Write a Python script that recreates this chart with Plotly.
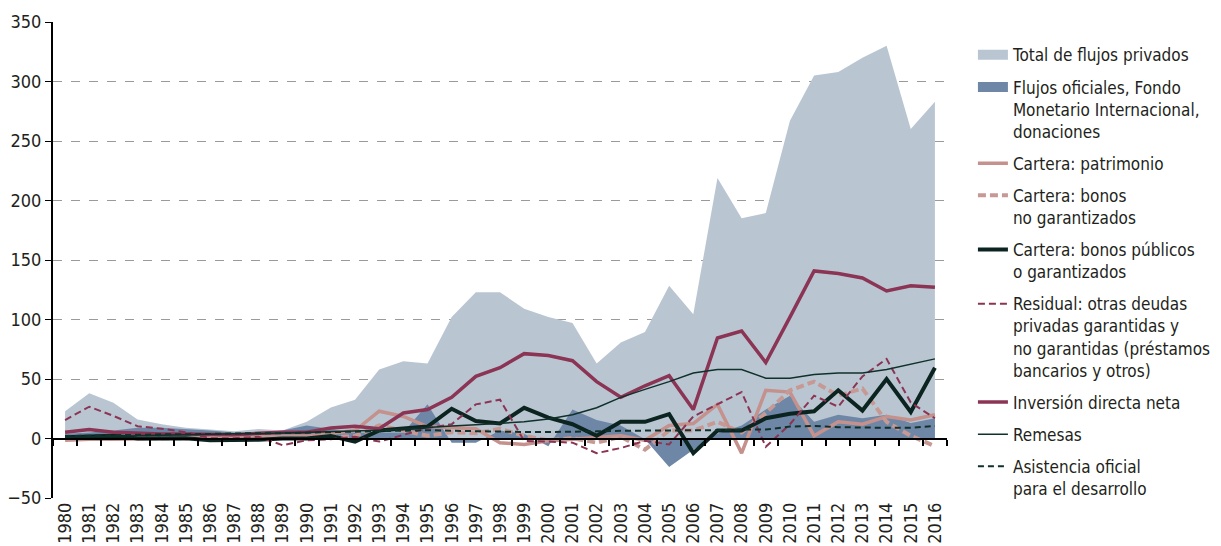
import plotly.graph_objects as go

years = [str(y) for y in range(1980, 2017)]

total_privados = [23, 38, 30, 16, 12, 9, 7.6, 6, 8, 6.7, 14, 26, 32.5, 58, 65, 63, 102, 123, 123,
                  109, 102, 97, 63, 80.6, 89.4, 128.4, 104.4, 219, 185, 189.4, 267, 305, 308, 320, 330, 260, 283]
flujos_oficiales = [4, 5, 6.7, 9, 9, 8, 6.7, 5, 5, 6.7, 11, 8, 5, 5, 5, 28.7, -3.5, -3.5, 6.7,
                    4, -6.5, 24.3, 15.5, 11, -0.6, -24, -9.4, 4, 11, 24.3, 36, 14, 20, 17, 20, 13, 17]
patrimonio = [-1.5, -0.6, -0.6, 0, 0, 0.5, 0.5, 0.5, 1.5, 1.5, 2, 4.4, 6.7, 22.9, 18.5, 10, 9, 8.2, -3.5,
              -5, -2, -0.6, 0.9, 2.3, -1.5, 11, 12.6, 28.7, -12.3, 40.5, 39, 2.3, 14, 12, 18.5, 15.5, 20]
bonos_no_garant = [0, 0, 0, 0, 0, 0, 0, 0, 0, 0, 0.5, 1, 2, 11, 6.7, 2.3, 5.3, 4.4, 8.2,
                   2.3, -1.5, 0.3, -3.5, 1.5, -9.4, 6.7, 6.7, 14, 5, 21.4, 40.5, 47.8, 36, 42, 14, 2.3, -6.5]
bonos_publicos = [1, 1.5, 2.3, 0, 0.3, 0.3, -1.5, -1.5, -1, 0, 0, 2, -2.6, 6.7, 8, 10, 25, 14.7, 12.6,
                  25.8, 17.6, 12, 2.3, 14, 14, 20.5, -12.3, 6.7, 6.7, 17, 20.8, 22.9, 40.5, 23.5, 49.9, 22.3, 59.5]
residual = [15.5, 26.7, 19, 10.3, 8.2, 5.3, 0.3, 0.3, 1.5, -5.6, -1.5, -0.6, 1.5, -2.6, 3, 8.8, 12, 28.7, 32.6,
            -2, -2.6, -3.5, -12.3, -8, -2, -5, 18.5, 28.7, 39, -7, 12, 36, 26.7, 52.2, 66.9, 30.2, 17]
inversion_directa = [5.3, 7.6, 5.3, 4.4, 3.8, 3.8, 3.2, 3.2, 4.4, 5.3, 5.3, 8.8, 10.3, 8.2, 21.4, 24.3, 34.6, 52.2, 59.5,
                     71.3, 69.8, 65.4, 47.8, 34.6, 44.3, 52.8, 24.3, 84.5, 90.3, 63.9, 102, 140.8, 138.7, 134.9, 124, 128.4, 127]
remesas = [1, 1.5, 2, 2.5, 3, 3, 3.5, 4, 4, 4.5, 5, 5.5, 6, 7, 8, 9.5, 10.5, 11.5, 12.5,
           14, 16.4, 20, 25.8, 34.6, 41.3, 47.8, 55, 58, 58, 50.7, 50.7, 53.7, 55, 55, 58, 62.5, 66.9]
aod = [2, 2.5, 3, 3, 3.5, 3.5, 4, 4, 4.5, 4.5, 5, 5.5, 6, 6.5, 7, 7, 6.5, 6, 6,
       5.5, 5.5, 5.5, 6, 6.5, 6.5, 7, 7, 7, 7.5, 7.5, 10, 10.5, 9.5, 9, 9, 9, 10.5]

y_ticks = [-50, 0, 50, 100, 150, 200, 250, 300, 350]

FONT = "Liberation Sans Narrow, DejaVu Sans Condensed, sans-serif"
LIGHT = "#b9c6d2"
DARK_AREA = "#6f87a6"
ROSE = "#c4918d"
CRIMSON = "#8b3454"
BLACKGREEN = "#0b2420"
DARKLINE = "#10302a"

fig = go.Figure()

# areas (legend handled by proxy entries below)
fig.add_trace(go.Scatter(x=years, y=total_privados, name="Total de flujos privados",
                         mode="lines", line=dict(width=0, color=LIGHT),
                         fill="tozeroy", fillcolor=LIGHT, showlegend=False))
fig.add_trace(go.Scatter(x=years, y=flujos_oficiales, name="Flujos oficiales",
                         mode="lines", line=dict(width=0, color=DARK_AREA),
                         fill="tozeroy", fillcolor=DARK_AREA, showlegend=False))

# legend proxies for the areas (thick swatches)
fig.add_trace(go.Scatter(x=[None], y=[None], name="Total de flujos privados", mode="lines",
                         line=dict(width=16, color=LIGHT), legendgroup="a", legendrank=1))
fig.add_trace(go.Scatter(x=[None], y=[None],
                         name="Flujos oficiales, Fondo<br>Monetario Internacional,<br>donaciones",
                         mode="lines", line=dict(width=16, color=DARK_AREA), legendgroup="b", legendrank=2))

fig.add_trace(go.Scatter(x=years, y=patrimonio, name="Cartera: patrimonio",
                         mode="lines", line=dict(width=3.5, color=ROSE), legendgroup="c", legendrank=3))
fig.add_trace(go.Scatter(x=years, y=bonos_no_garant, name="Cartera: bonos<br>no garantizados",
                         mode="lines", line=dict(width=4, color="#c79995", dash="8px,4px"),
                         legendgroup="d", legendrank=4))
fig.add_trace(go.Scatter(x=years, y=bonos_publicos, name="Cartera: bonos públicos<br>o garantizados",
                         mode="lines", line=dict(width=4, color=BLACKGREEN), legendgroup="e", legendrank=5))
fig.add_trace(go.Scatter(x=years, y=residual,
                         name="Residual: otras deudas<br>privadas garantidas y<br>no garantidas (préstamos<br>bancarios y otros)",
                         mode="lines", line=dict(width=2, color=CRIMSON, dash="7px,4px"),
                         legendgroup="f", legendrank=6))
fig.add_trace(go.Scatter(x=years, y=inversion_directa, name="Inversión directa neta",
                         mode="lines", line=dict(width=3.5, color=CRIMSON), legendgroup="g", legendrank=7))
fig.add_trace(go.Scatter(x=years, y=remesas, name="Remesas",
                         mode="lines", line=dict(width=1.5, color=DARKLINE), legendgroup="h", legendrank=8))
fig.add_trace(go.Scatter(x=years, y=aod, name="Asistencia oficial<br>para el desarrollo",
                         mode="lines", line=dict(width=2, color=DARKLINE, dash="6px,4px"),
                         legendgroup="i", legendrank=9))

# helper trace for the zero-line x axis (ticks at category boundaries)
fig.add_trace(go.Scatter(x=years, y=[None] * len(years), xaxis="x2", yaxis="y",
                         showlegend=False, hoverinfo="skip", mode="lines"))

# page body has an 8px margin, so the figure is sized to fill the rest of the window
fig.update_layout(
    width=1213, height=538,
    margin=dict(l=45, r=274, t=14, b=48, autoexpand=False),
    plot_bgcolor="white", paper_bgcolor="white",
    font=dict(family=FONT, size=18, color="#231f20"),
    showlegend=True,
    legend=dict(x=1.029, y=0.968, xanchor="left", yanchor="top", valign="top",
                font=dict(size=17, family=FONT, color="#231f20"),
                itemwidth=30, tracegroupgap=7, bgcolor="rgba(0,0,0,0)",
                traceorder="grouped"),
    xaxis=dict(type="category", categoryorder="array", categoryarray=years,
               range=[-0.5, 36.5], showline=False, showgrid=False, zeroline=False,
               ticks="", tickangle=-90, tickfont=dict(size=18), ticklen=0, automargin=False),
    xaxis2=dict(type="category", categoryorder="array", categoryarray=years,
                overlaying="x", matches="x", anchor="free", position=0.125,
                showline=True, linecolor="#000000", linewidth=2,
                ticks="outside", tickson="boundaries", ticklen=6, tickwidth=1.5,
                tickcolor="#000000", showticklabels=False, showgrid=False, zeroline=False,
                automargin=False),
    yaxis=dict(range=[-50, 350], tickvals=y_ticks, showline=True, linecolor="#000000",
               linewidth=2, ticks="outside", ticklen=6, tickcolor="#000000",
               showgrid=True, gridcolor="#9a9a9a", griddash="dash", gridwidth=1,
               zeroline=False, tickfont=dict(size=18), automargin=False),
)

fig.write_html("out.html")
